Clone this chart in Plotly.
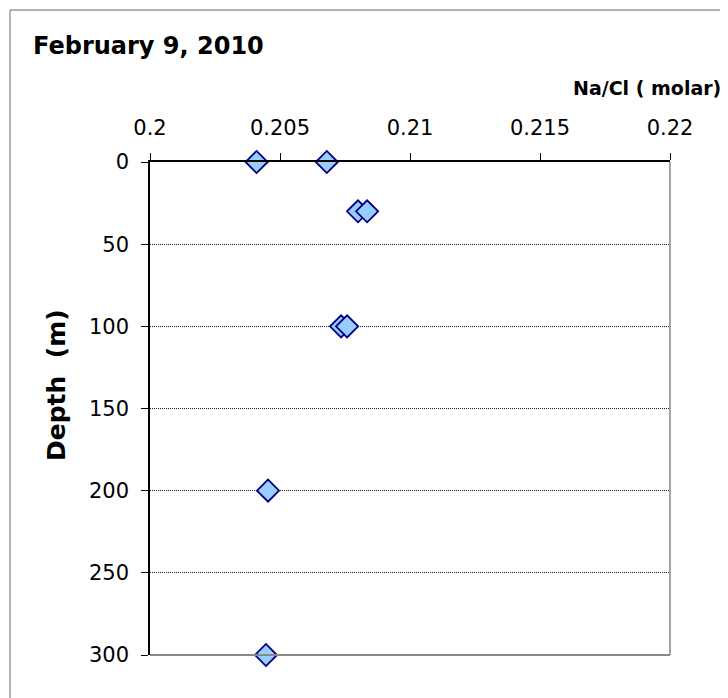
import plotly.graph_objects as go

na_cl = [0.2041, 0.2068, 0.2080, 0.20835, 0.20735, 0.20758, 0.20454, 0.20446]
depth = [0, 0, 30, 30, 100, 100, 200, 300]
x_ticks = [0.2, 0.205, 0.21, 0.215, 0.22]
x_labels = ["0.2", "0.205", "0.21", "0.215", "0.22"]
y_ticks = [0, 50, 100, 150, 200, 250, 300]

font = "DejaVu Sans, sans-serif"

fig = go.Figure()
fig.add_trace(go.Scatter(
    x=na_cl, y=depth, mode="markers",
    marker=dict(symbol="diamond", size=17, color="#99CCFF",
                line=dict(color="#000080", width=1.8)),
    cliponaxis=False, showlegend=False,
))

# page body adds an 8px offset; compensate so the plot sits at 150..670 x 162..655
OFF = 8
L, T = 150 - OFF, 162 - OFF
W, H = 728 - OFF, 698 - OFF
pw, ph = 520, 493
R = W - L - pw
B = H - T - ph

def px(xw):  # window x -> paper x
    return (xw - 150) / pw

def py(yw):  # window y -> paper y
    return (655 - yw) / ph

fig.update_layout(
    width=W, height=H,
    margin=dict(l=L, r=R, t=T, b=B),
    paper_bgcolor="white", plot_bgcolor="white",
    font=dict(family=font, color="black", size=21),
    xaxis=dict(
        side="top", range=[0.2, 0.22], tickvals=x_ticks, ticktext=x_labels,
        showgrid=False, zeroline=False, showline=True, linecolor="black", linewidth=1.5,
        ticks="outside", ticklen=7, tickcolor="black", ticklabelstandoff=10,
        tickfont=dict(size=21, family=font),
    ),
    yaxis=dict(
        range=[300, 0], tickvals=y_ticks, showgrid=True, gridcolor="#222222",
        griddash="1px,1px", gridwidth=1, zeroline=False, showline=True,
        linecolor="black", linewidth=1.5, ticks="outside", ticklen=7,
        tickcolor="black", ticklabelstandoff=8, tickfont=dict(size=21, family=font),
    ),
    shapes=[
        dict(type="line", xref="paper", yref="paper", x0=1, x1=1, y0=0, y1=1,
             line=dict(color="#888888", width=1.5)),
        dict(type="line", xref="paper", yref="paper", x0=0, x1=1, y0=0, y1=0,
             line=dict(color="#888888", width=2)),
        # outer chart frame: only left and top edges are inside the window
        dict(type="line", xref="paper", yref="paper",
             x0=px(10), x1=px(10), y0=py(710), y1=py(10),
             line=dict(color="#666666", width=1)),
        dict(type="line", xref="paper", yref="paper",
             x0=px(10), x1=px(740), y0=py(10), y1=py(10),
             line=dict(color="#666666", width=1)),
    ],
    annotations=[
        dict(text="<b>February 9, 2010</b>", xref="paper", yref="paper",
             x=px(31), y=py(46), xanchor="left", yanchor="middle",
             showarrow=False, font=dict(size=24, family=font)),
        dict(text="<b>Na/Cl ( molar)</b>", xref="paper", yref="paper",
             x=px(723), y=py(88), xanchor="right", yanchor="middle",
             showarrow=False, font=dict(size=19, family=font)),
        dict(text="<b>Depth  (m)</b>", xref="paper", yref="paper",
             x=px(56), y=py(385), xanchor="center", yanchor="middle",
             textangle=-90, showarrow=False, font=dict(size=25, family=font)),
    ],
)

fig.write_html("out.html")
